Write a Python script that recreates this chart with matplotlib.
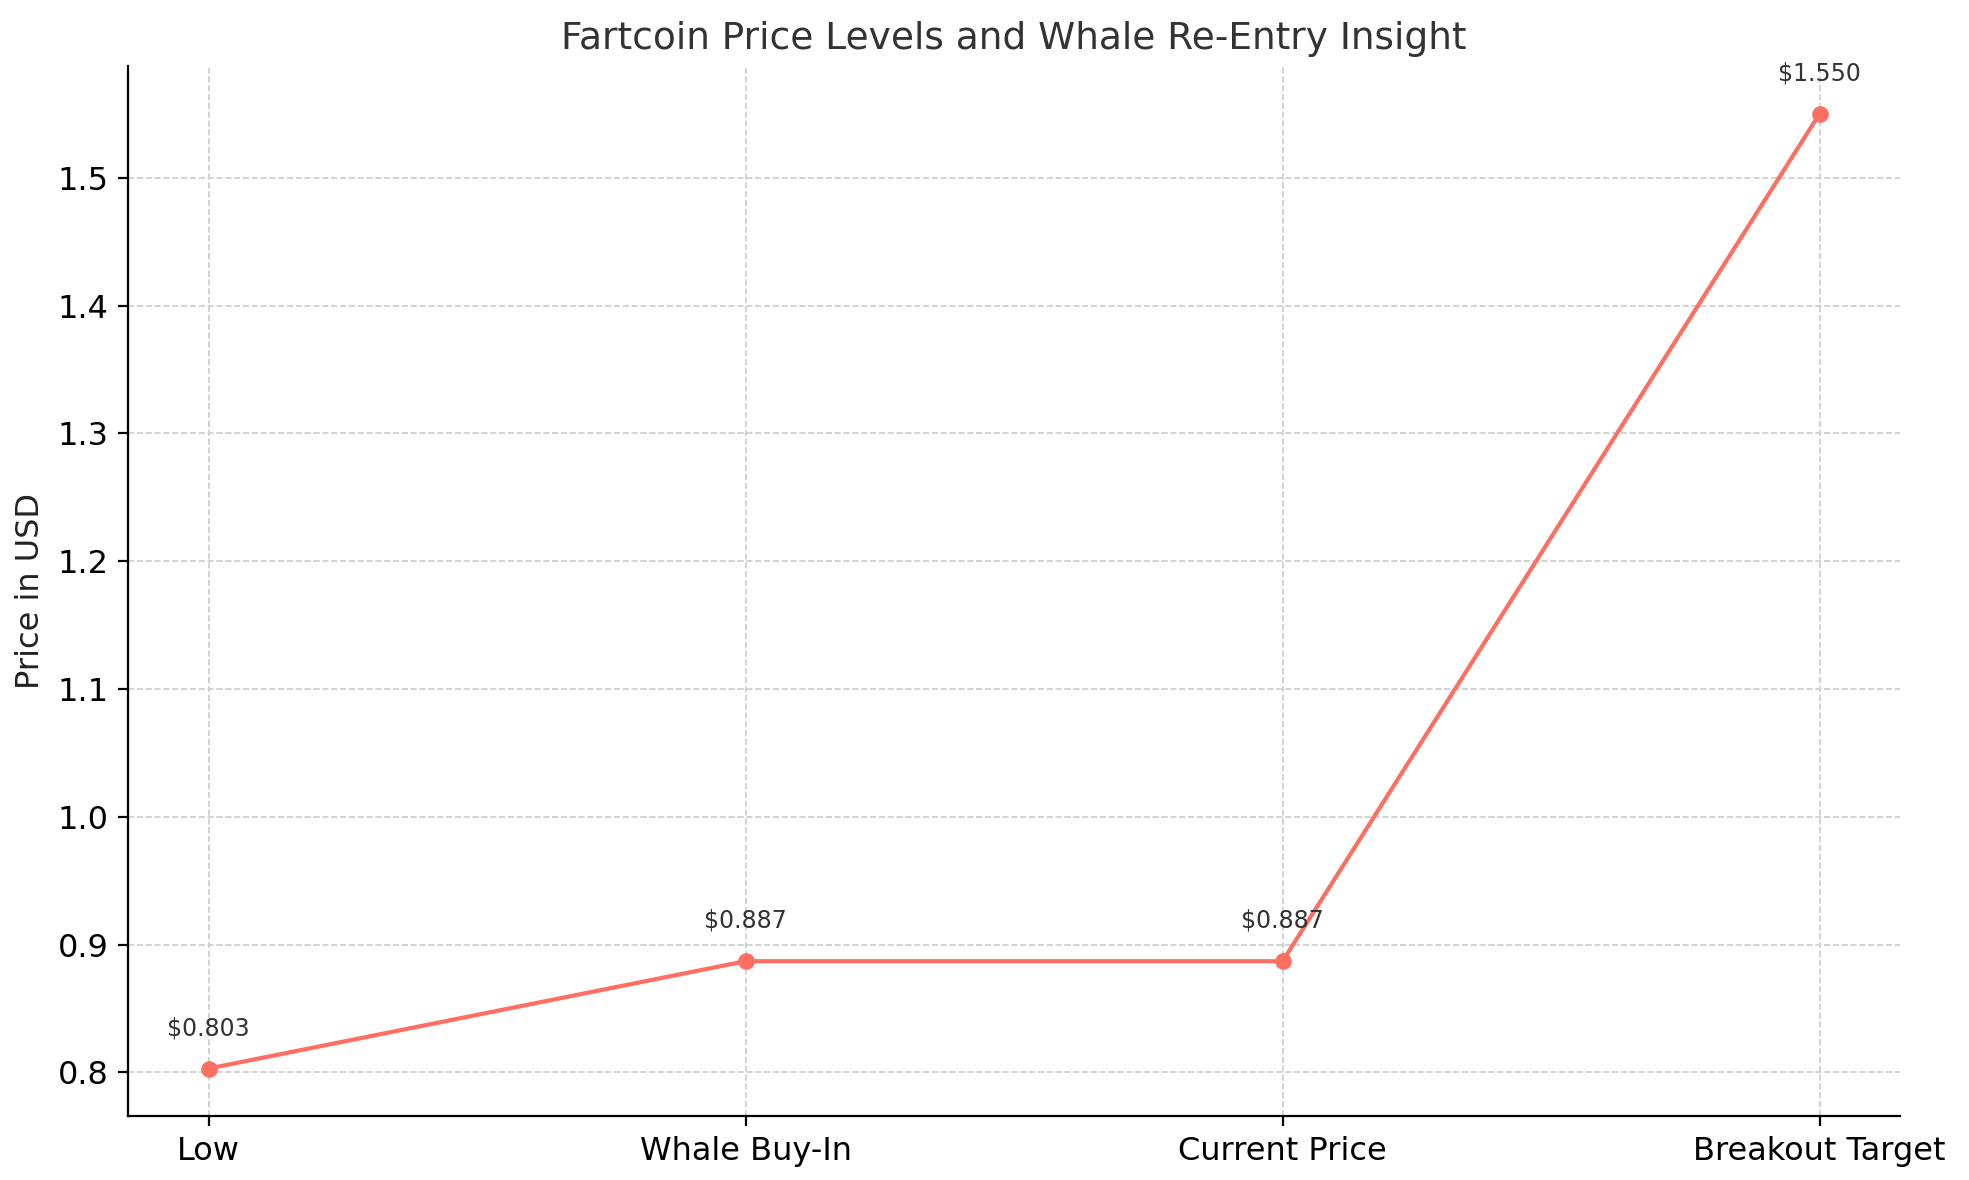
import matplotlib
matplotlib.use("Agg")
import matplotlib.pyplot as plt

categories = ["Low", "Whale Buy-In", "Current Price", "Breakout Target"]
prices = [0.803, 0.887, 0.887, 1.550]

fig, ax = plt.subplots(figsize=(9.845, 5.9), dpi=200)
color = "#FF6F61"
ax.plot(categories, prices, marker="o", color=color, linewidth=1.5, markersize=5)
for i, p in enumerate(prices):
    ax.annotate(f"${p:.3f}", (i, p), textcoords="offset points", xytext=(0, 12),
                ha="center", fontsize=8.5, color="#333333")
ax.set_title("Fartcoin Price Levels and Whale Re-Entry Insight", fontsize=13.5, color="#333333")
ax.set_ylabel("Price in USD", fontsize=11.5, color="#222222")
ax.tick_params(labelsize=11.5)
ax.grid(True, linestyle="--", linewidth=0.6, color="#cccccc")
ax.set_axisbelow(True)
for s in ["top", "right"]:
    ax.spines[s].set_visible(False)
fig.subplots_adjust(left=0.065, right=0.965, top=0.944, bottom=0.054)
fig.savefig("out.png", dpi=200)
